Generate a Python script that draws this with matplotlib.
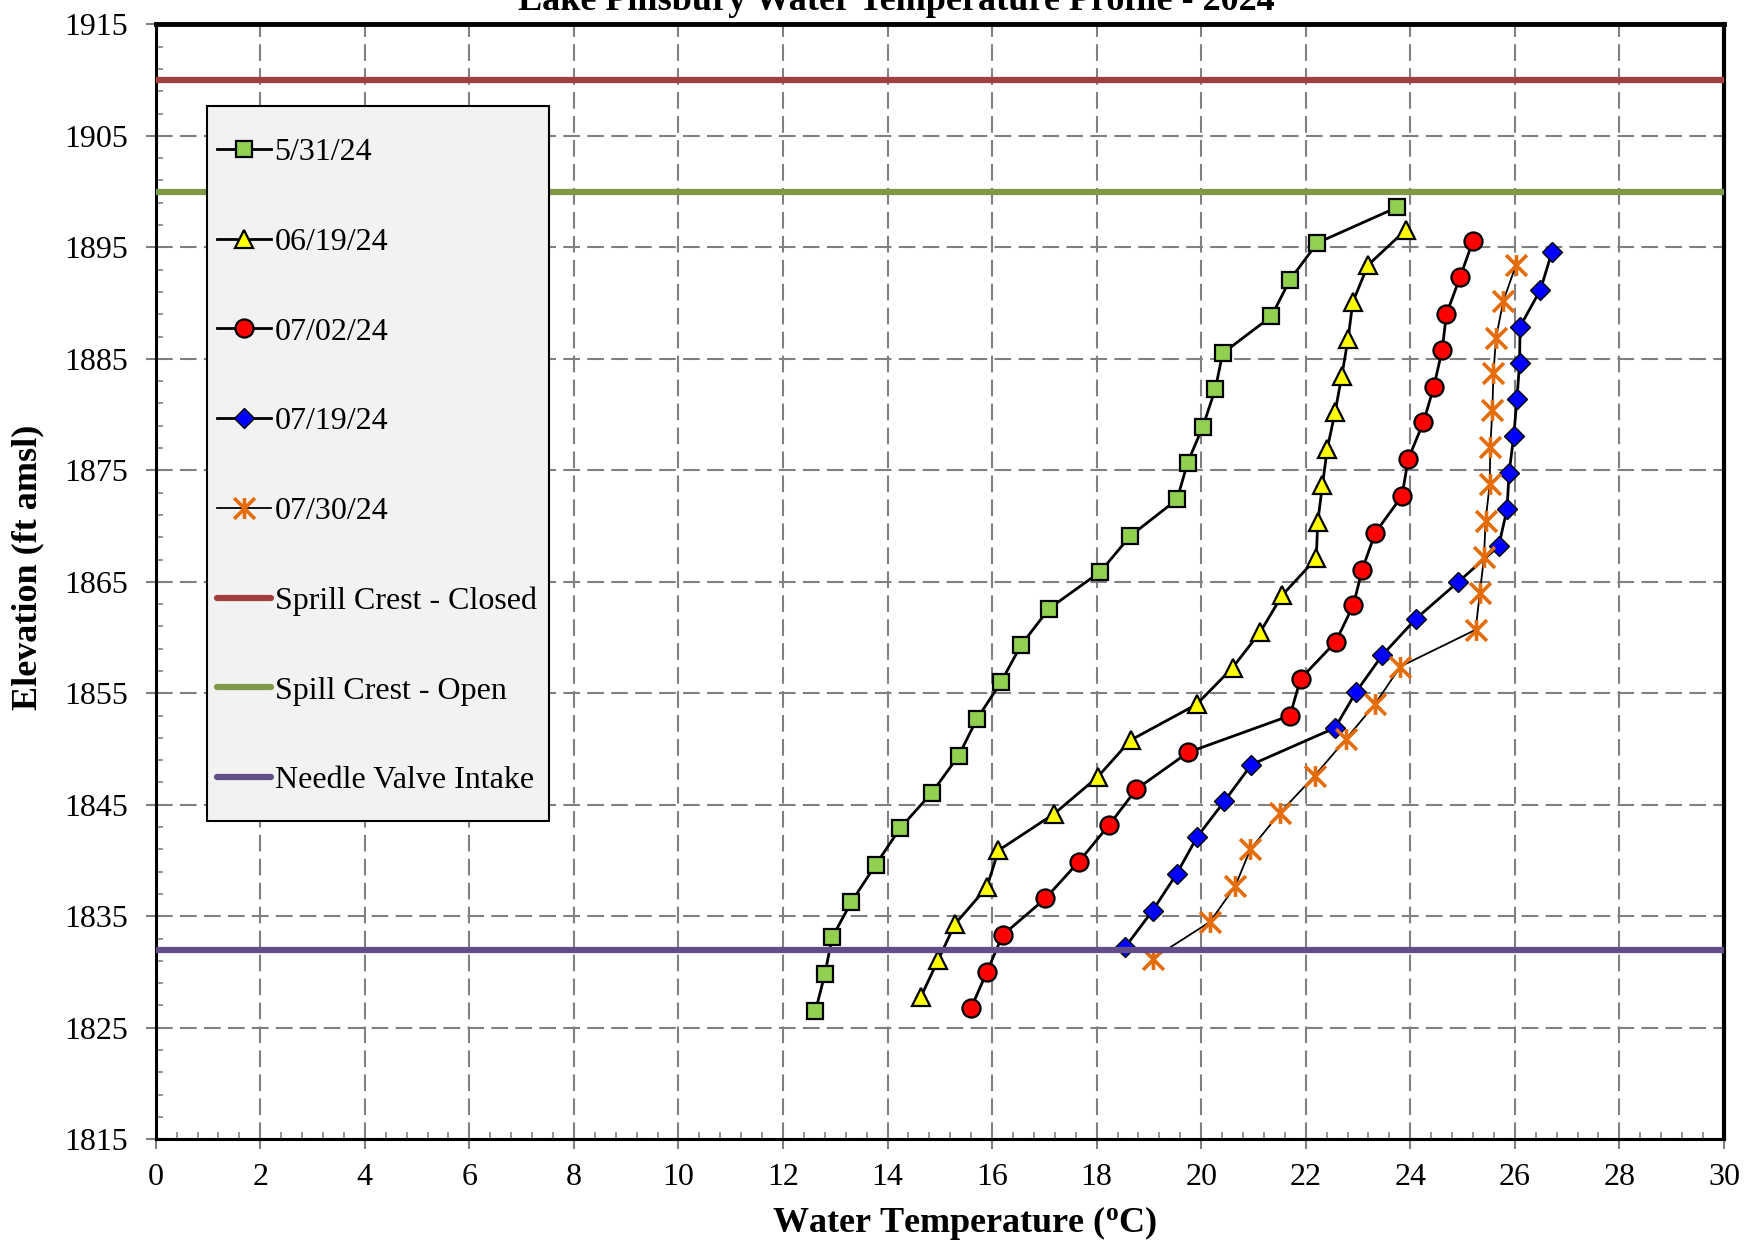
"""Lake Pillsbury water temperature profile, 2024 -- elevation vs temperature"""
import matplotlib
matplotlib.use("Agg")
import matplotlib.pyplot as plt
from matplotlib.patches import Rectangle
from matplotlib.path import Path
from matplotlib.ticker import MultipleLocator

plt.rcParams["font.family"] = ["Liberation Serif", "DejaVu Serif"]
plt.rcParams["mathtext.fontset"] = "custom"
plt.rcParams["mathtext.bf"] = "Liberation Serif:bold"
plt.rcParams["mathtext.rm"] = "Liberation Serif"
plt.rcParams["mathtext.default"] = "bf"

# ───── Data (temperature °C, elevation ft amsl) ─────────────────────────────
t_0531 = [23.75, 22.22, 21.70, 21.34, 20.41, 20.27, 20.03, 19.74, 19.54, 18.64, 18.07, 17.09,
          16.55, 16.17, 15.71, 15.36, 14.85, 14.24, 13.77, 13.31, 12.94, 12.80, 12.62]
e_0531 = [1898.6, 1895.4, 1892.1, 1888.8, 1885.5, 1882.3, 1878.9, 1875.7, 1872.4, 1869.1,
          1865.9, 1862.6, 1859.3, 1856.0, 1852.7, 1849.4, 1846.1, 1842.9, 1839.6, 1836.3,
          1833.1, 1829.8, 1826.5]

t_0619 = [23.92, 23.19, 22.90, 22.81, 22.69, 22.56, 22.41, 22.32, 22.23, 22.20, 21.55, 21.13,
          20.60, 19.91, 18.65, 18.02, 17.19, 16.12, 15.90, 15.29, 14.97, 14.64]
e_0619 = [1896.6, 1893.4, 1890.1, 1886.8, 1883.5, 1880.2, 1876.9, 1873.7, 1870.4, 1867.1,
          1863.8, 1860.5, 1857.3, 1854.0, 1850.8, 1847.5, 1844.2, 1840.9, 1837.6, 1834.3,
          1831.1, 1827.8]

t_0702 = [25.20, 24.95, 24.69, 24.61, 24.45, 24.25, 23.96, 23.84, 23.33, 23.08, 22.91, 22.57,
          21.90, 21.70, 19.75, 18.76, 18.24, 17.66, 17.02, 16.20, 15.90, 15.60]
e_0702 = [1895.6, 1892.3, 1889.0, 1885.8, 1882.5, 1879.3, 1876.0, 1872.7, 1869.4, 1866.1,
          1862.9, 1859.6, 1856.3, 1853.0, 1849.7, 1846.4, 1843.2, 1839.9, 1836.6, 1833.3,
          1830.0, 1826.8]

t_0719 = [26.71, 26.49, 26.10, 26.09, 26.04, 25.98, 25.89, 25.85, 25.69, 24.92, 24.11, 23.46,
          22.96, 22.56, 20.96, 20.44, 19.92, 19.53, 19.07, 18.54]
e_0719 = [1894.6, 1891.2, 1887.9, 1884.6, 1881.4, 1878.1, 1874.8, 1871.5, 1868.2, 1865.0,
          1861.7, 1858.4, 1855.1, 1851.9, 1848.6, 1845.3, 1842.1, 1838.8, 1835.5, 1832.2]

t_0730 = [26.02, 25.78, 25.64, 25.59, 25.57, 25.53, 25.52, 25.44, 25.41, 25.33, 25.25, 23.81,
          23.32, 22.77, 22.17, 21.51, 20.94, 20.65, 20.17, 19.07]
e_0730 = [1893.4, 1890.2, 1886.9, 1883.7, 1880.4, 1877.1, 1873.8, 1870.5, 1867.2, 1864.0,
          1860.7, 1857.4, 1854.0, 1850.9, 1847.6, 1844.3, 1841.0, 1837.7, 1834.5, 1831.2]

# reference elevations
ref_labels = ["Sprill Crest - Closed", "Spill Crest - Open", "Needle Valve Intake"]
ref_elev = [1910, 1900, 1832]
ref_colors = ["#A23E3B", "#7E9A48", "#634D88"]

y_ticks = list(range(1815, 1916, 10))

# Excel style "star" marker: an X with a vertical bar
STAR = Path(
    [(0, -1), (0, 1), (-1, -1), (1, 1), (-1, 1), (1, -1)],
    [Path.MOVETO, Path.LINETO] * 3,
)

# ───── Figure ──────────────────────────────────────────────────────────────
fig = plt.figure(figsize=(17.44, 12.46), dpi=100)
ax = fig.add_axes([0.0893, 0.0857, 0.8992, 0.8947])

line_kw = dict(color="black", markeredgecolor="black", zorder=4)
ax.plot(t_0531, e_0531, marker="s", ms=11, mfc="#92D050", mew=1.6, lw=2, label="5/31/24", **line_kw)
ax.plot(t_0619, e_0619, marker="^", ms=13, mfc="#FFFF00", mew=1.6, lw=2, label="06/19/24", **line_kw)
ax.plot(t_0702, e_0702, marker="o", ms=13, mfc="#FF0000", mew=1.6, lw=2, label="07/02/24", **line_kw)
ax.plot(t_0719, e_0719, marker="D", ms=10, mfc="#0000FF", mew=1.0, lw=2, label="07/19/24", **line_kw)
ax.plot(t_0730, e_0730, marker=STAR, ms=15, mew=2.6, color="black", mec="#E46C0A",
        lw=1.3, label="07/30/24", zorder=4)

for lab, el, col in zip(ref_labels, ref_elev, ref_colors):
    ax.axhline(el, color=col, lw=4.5, label=lab, zorder=5, solid_capstyle="round")

ax.set_xlim(0, 30)
ax.set_ylim(1815, 1915)
ax.xaxis.set_major_locator(MultipleLocator(2))
ax.xaxis.set_minor_locator(MultipleLocator(0.4))
ax.set_yticks(y_ticks)
ax.yaxis.set_minor_locator(MultipleLocator(2, offset=1))

ax.grid(which="major", color="#808080", lw=1.5, linestyle=(0, (8, 3.5)), zorder=1)
ax.tick_params(which="major", direction="out", length=7, width=1.5, color="#808080",
               labelsize=23)
ax.tick_params(which="minor", direction="in", length=5, width=1.2, color="#808080")
ax.tick_params(axis="y", which="major", pad=13)
ax.tick_params(axis="x", which="major", pad=10)

for side, w in (("top", 3.5), ("right", 3.0), ("left", 2.2), ("bottom", 2.2)):
    ax.spines[side].set_linewidth(w)
    ax.spines[side].set_color("black")

ax.set_xlabel(r"Water Temperature ($^{o}$C)", fontsize=26, fontweight="bold")
ax.xaxis.set_label_coords(0.516, -0.058)
ax.set_ylabel("Elevation (ft amsl)", fontsize=26, fontweight="bold")
ax.yaxis.set_label_coords(-0.071, 0.513)

# the title sits partly above the figure edge, as in the original export
fig.text(0.514, 0.992, "Lake Pillsbury Water Temperature Profile - 2024", fontsize=26,
         fontweight="bold", ha="center", va="baseline")

# legend box drawn separately so its padding can follow the original
ax.add_patch(Rectangle((0.0327, 0.2853), 0.218, 0.6416, transform=ax.transAxes,
                       facecolor="#F2F2F2", edgecolor="black", lw=1.5, zorder=5.5))
leg = ax.legend(loc="upper left", bbox_to_anchor=(0.0391, 0.8984), borderaxespad=0,
                fontsize=23, labelspacing=1.89, handlelength=1.7, handletextpad=0.1,
                borderpad=0, frameon=False)
leg.set_zorder(6)

fig.savefig("out.png", dpi=100)
plt.close(fig)
